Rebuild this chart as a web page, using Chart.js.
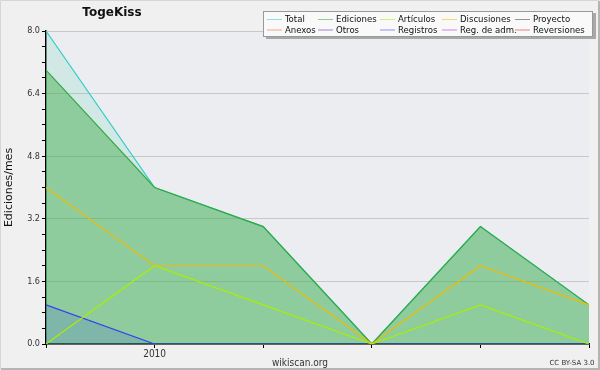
<!DOCTYPE html>
<html>
<head>
<meta charset="utf-8">
<script src="https://cdn.jsdelivr.net/npm/chart.js@4/dist/chart.umd.min.js"></script>
<style>
  body { margin: 0; background: #f0f0f0; }
</style>
</head>
<body>
<canvas id="chartEdits" width="600" height="370"></canvas>
<script>
var months = ['', '2010', '', '', '', '']
var total = [8, 4, 3, 0, 3, 1]
var ediciones = [7, 4, 3, 0, 3, 1]
var articulos = [0, 2, 1, 0, 1, 0]
var discusiones = [4, 2, 2, 0, 2, 1]
var registros = [1, 0, 0, 0, 0, 0]
var yLabels = [0, 1.6, 3.2, 4.8, 6.4, 8.0]

var series = ['Total', 'Ediciones', 'Artículos', 'Discusiones', 'Proyecto', 'Anexos', 'Otros', 'Registros', 'Reg. de adm.', 'Reversiones']
var seriesValues = [total, ediciones, articulos, discusiones, [], [], [], registros, [], []]
var lineColors = ['#33cccc', '#33aa44', '#aaee00', '#eebb00', '#444444', '#ee6622', '#6622bb', '#3344ee', '#bb22dd', '#dd2222']
var fillColors = ['rgba(60,210,170,0.15)', 'rgba(60,170,70,0.45)', false, false, false, false, false, 'rgba(40,60,240,0.15)', false, false]
var drawOrder = [10, 9, 2, 3, 5, 5, 5, 8, 5, 5]

var font = "'DejaVu Sans', sans-serif"
var condensed = "'DejaVu Sans Condensed', 'DejaVu Sans', sans-serif"

var isLabel = function(v){
  return yLabels.some(function(t){ return Math.abs(t - v) < 1e-6 })
}

var datasets = series.map(function(name, i){
  return {
    label: name,
    data: seriesValues[i],
    borderColor: lineColors[i],
    backgroundColor: fillColors[i] || 'rgba(0,0,0,0)',
    fill: fillColors[i] ? 'origin' : false,
    borderWidth: 1.2,
    pointRadius: 0,
    tension: 0,
    order: drawOrder[i]
  }
})

var decor = {
  id: 'decor',
  beforeDraw: function(chart){
    var c = chart.ctx, a = chart.chartArea
    c.save()
    c.fillStyle = '#f0f0f0'
    c.fillRect(0, 0, chart.width, chart.height)
    c.fillStyle = '#ecedf0'
    c.fillRect(a.left, a.top, a.right - a.left, a.bottom - a.top)
    c.restore()
  },
  afterDraw: function(chart){
    var c = chart.ctx
    c.save()
    // title
    c.fillStyle = '#111'
    c.font = 'bold 12px ' + font
    c.textAlign = 'center'
    c.textBaseline = 'middle'
    c.fillText('TogeKiss', 112, 13)

    // legend box
    c.fillStyle = '#a8a8a8'
    c.fillRect(266, 13, 330, 26)
    c.fillStyle = '#f9f9f9'
    c.fillRect(263, 11, 330, 26)
    c.strokeStyle = '#999'
    c.lineWidth = 1
    c.strokeRect(263.5, 11.5, 329, 25)

    var cols = [267, 318, 380, 442, 515]
    c.font = '9.5px ' + condensed
    c.textAlign = 'left'
    series.forEach(function(name, i){
      var x = cols[i % 5]
      var y = i < 5 ? 19 : 29.5
      c.globalAlpha = 0.55
      c.strokeStyle = lineColors[i]
      c.beginPath()
      c.moveTo(x, y + 0.5)
      c.lineTo(x + 15, y + 0.5)
      c.stroke()
      c.globalAlpha = 1
      c.fillStyle = '#111'
      c.fillText(name, x + 18, y + 1)
    })

    // footer
    c.fillStyle = '#333'
    c.textAlign = 'center'
    c.font = '10px ' + condensed
    c.fillText('wikiscan.org', 300, 363)
    c.font = '7px ' + font
    c.fillText('CC BY-SA 3.0', 572, 363)

    // frame
    c.strokeStyle = '#d6d6d6'
    c.beginPath()
    c.moveTo(0.5, 369); c.lineTo(0.5, 0.5); c.lineTo(599, 0.5)
    c.stroke()
    c.strokeStyle = '#b4b4b4'
    c.lineWidth = 2
    c.beginPath()
    c.moveTo(1, 369); c.lineTo(599, 369); c.lineTo(599, 1)
    c.stroke()
    c.restore()
  }
}

var ctx = document.getElementById('chartEdits')

var chartEdits = new Chart(ctx, {
  type: 'line',
  data: {
    labels: months,
    datasets: datasets
  },
  plugins: [decor],
  options: {
    responsive: false,
    animation: false,
    layout: { padding: { top: 31, right: 11, left: 0, bottom: 0 } },
    plugins: {
      legend: { display: false },
      title: { display: false },
      tooltip: { enabled: false },
      filler: { propagate: false }
    },
    scales: {
      x: {
        type: 'category',
        offset: false,
        afterFit: function(s){ s.height = 26 },
        grid: { color: 'rgba(0,0,0,0)', tickColor: '#000', tickLength: 4, drawTicks: true },
        border: { color: '#000', width: 1.5 },
        ticks: { autoSkip: false, maxRotation: 0, padding: 0, color: '#333', font: { family: condensed, size: 10 } }
      },
      y: {
        min: 0,
        max: 8,
        afterFit: function(s){ s.width = 46 },
        grid: {
          color: function(c){ return c.tick && isLabel(c.tick.value) ? '#c8c8c8' : 'rgba(0,0,0,0)' },
          tickColor: '#000',
          tickLength: 4,
          drawTicks: true
        },
        border: { color: '#000', width: 1.5 },
        ticks: {
          stepSize: 0.4,
          autoSkip: false,
          padding: 2,
          color: '#333',
          font: { family: condensed, size: 9 },
          callback: function(v){ return isLabel(v) ? v.toFixed(1) : '' }
        },
        title: {
          display: true,
          text: 'Ediciones/mes',
          color: '#111',
          padding: { top: 3, bottom: 0 },
          font: { family: font, size: 11 }
        }
      }
    }
  }
})
</script>
</body>
</html>
